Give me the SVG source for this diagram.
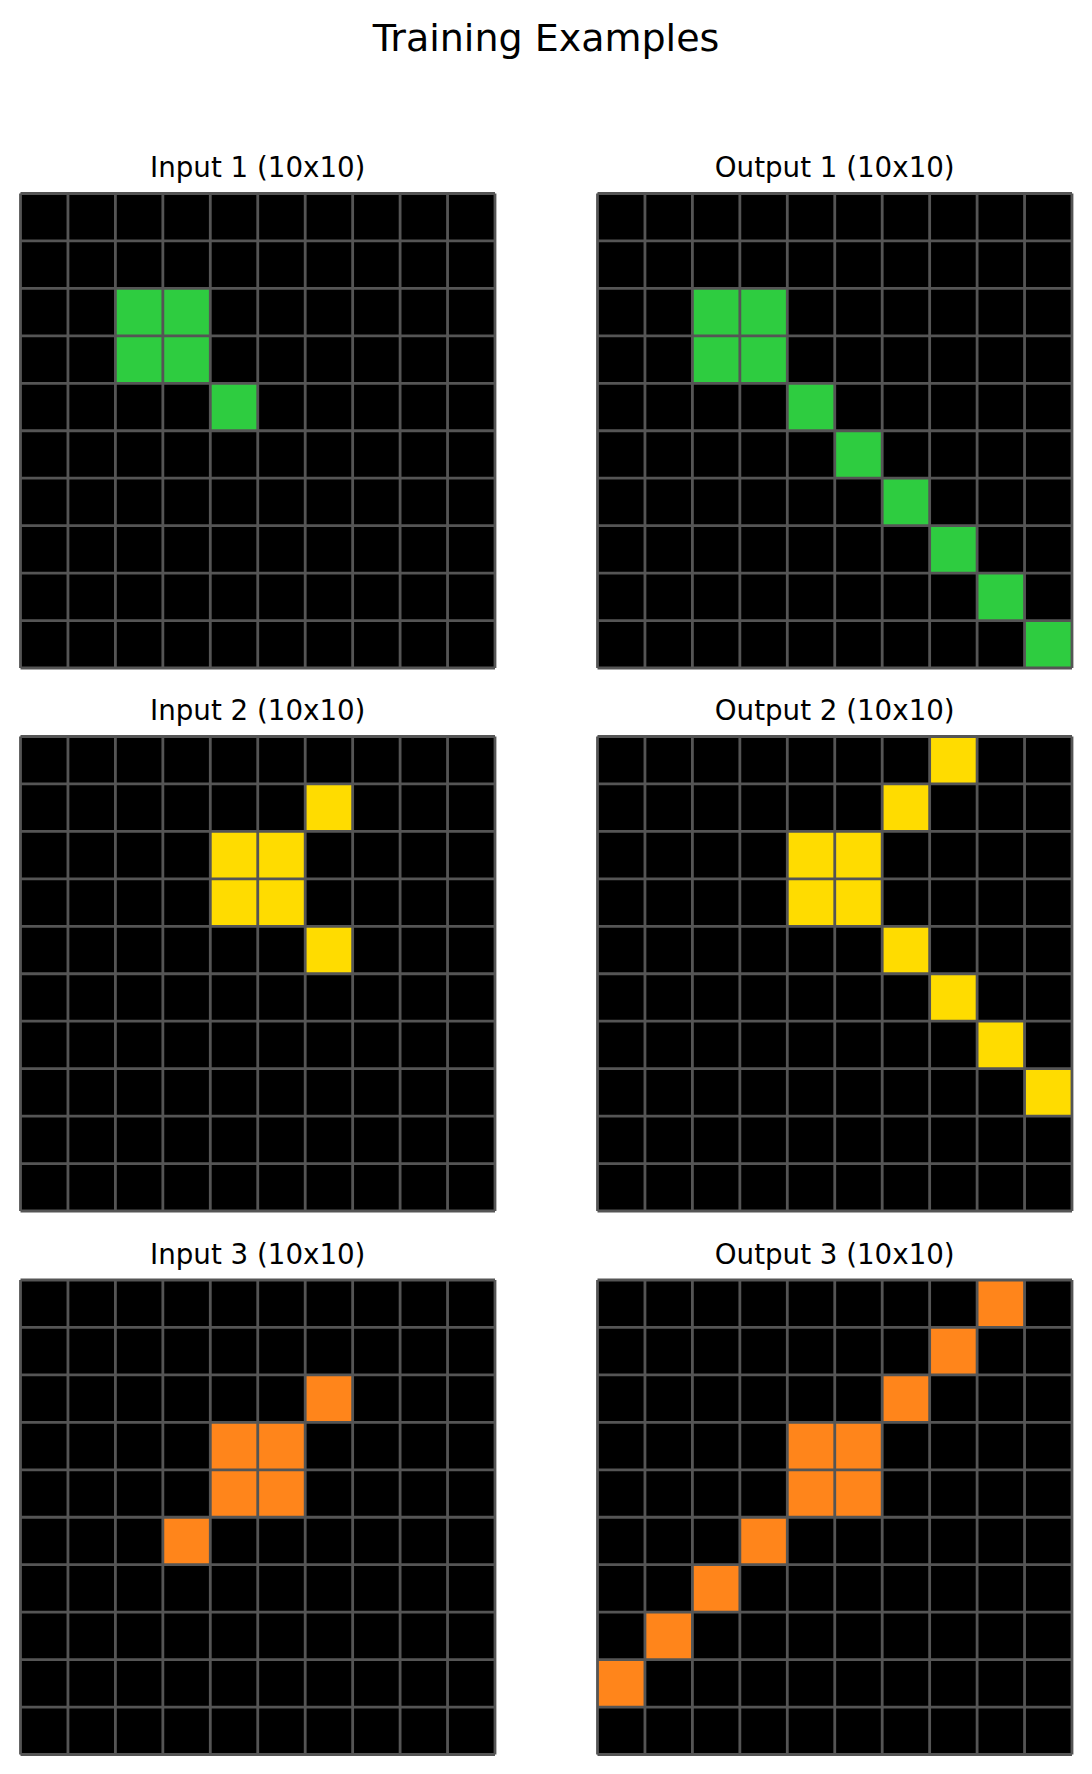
<svg xmlns="http://www.w3.org/2000/svg" xmlns:xlink="http://www.w3.org/1999/xlink" width="1092" height="1774" viewBox="0 0 1092 1774">
<style>
text{font-family:"DejaVu Sans","Liberation Sans",sans-serif;fill:#000;text-anchor:middle}
.t{font-size:27.7px}
.bg{fill:#000}
.g{fill:#2ECC40}
.y{fill:#FFDC00}
.o{fill:#FF851B}
.ln{fill:none;stroke:#555555;stroke-width:2.8}
</style>
<defs>
<path id="lines" class="ln" d="M0,0V474.5M47.45,0V474.5M94.9,0V474.5M142.35,0V474.5M189.8,0V474.5M237.25,0V474.5M284.7,0V474.5M332.15,0V474.5M379.6,0V474.5M427.05,0V474.5M474.5,0V474.5M0,0H474.5M0,47.45H474.5M0,94.9H474.5M0,142.35H474.5M0,189.8H474.5M0,237.25H474.5M0,284.7H474.5M0,332.15H474.5M0,379.6H474.5M0,427.05H474.5M0,474.5H474.5"/>
<rect id="c" width="47.45" height="47.45"/>
</defs>
<rect width="1092" height="1774" fill="#fff"/>
<text x="546" y="51" style="font-size:38px">Training Examples</text>
<g id="titles">
<text class="t" x="257.75" y="177">Input 1 (10x10)</text>
<text class="t" x="834.75" y="177">Output 1 (10x10)</text>
<text class="t" x="257.75" y="720">Input 2 (10x10)</text>
<text class="t" x="834.75" y="720">Output 2 (10x10)</text>
<text class="t" x="257.75" y="1264">Input 3 (10x10)</text>
<text class="t" x="834.75" y="1264">Output 3 (10x10)</text>
</g>
<g id="input1" transform="translate(20.5,193.5)">
<rect class="bg" width="474.5" height="474.5"/>
<g class="g">
<use xlink:href="#c" x="94.9" y="94.9"/><use xlink:href="#c" x="142.35" y="94.9"/>
<use xlink:href="#c" x="94.9" y="142.35"/><use xlink:href="#c" x="142.35" y="142.35"/>
<use xlink:href="#c" x="189.8" y="189.8"/>
</g>
<use xlink:href="#lines"/>
</g>
<g id="output1" transform="translate(597.5,193.5)">
<rect class="bg" width="474.5" height="474.5"/>
<g class="g">
<use xlink:href="#c" x="94.9" y="94.9"/><use xlink:href="#c" x="142.35" y="94.9"/>
<use xlink:href="#c" x="94.9" y="142.35"/><use xlink:href="#c" x="142.35" y="142.35"/>
<use xlink:href="#c" x="189.8" y="189.8"/>
<use xlink:href="#c" x="237.25" y="237.25"/>
<use xlink:href="#c" x="284.7" y="284.7"/>
<use xlink:href="#c" x="332.15" y="332.15"/>
<use xlink:href="#c" x="379.6" y="379.6"/>
<use xlink:href="#c" x="427.05" y="427.05"/>
</g>
<use xlink:href="#lines"/>
</g>
<g id="input2" transform="translate(20.5,736.5)">
<rect class="bg" width="474.5" height="474.5"/>
<g class="y">
<use xlink:href="#c" x="284.7" y="47.45"/>
<use xlink:href="#c" x="189.8" y="94.9"/><use xlink:href="#c" x="237.25" y="94.9"/>
<use xlink:href="#c" x="189.8" y="142.35"/><use xlink:href="#c" x="237.25" y="142.35"/>
<use xlink:href="#c" x="284.7" y="189.8"/>
</g>
<use xlink:href="#lines"/>
</g>
<g id="output2" transform="translate(597.5,736.5)">
<rect class="bg" width="474.5" height="474.5"/>
<g class="y">
<use xlink:href="#c" x="332.15" y="0"/>
<use xlink:href="#c" x="284.7" y="47.45"/>
<use xlink:href="#c" x="189.8" y="94.9"/><use xlink:href="#c" x="237.25" y="94.9"/>
<use xlink:href="#c" x="189.8" y="142.35"/><use xlink:href="#c" x="237.25" y="142.35"/>
<use xlink:href="#c" x="284.7" y="189.8"/>
<use xlink:href="#c" x="332.15" y="237.25"/>
<use xlink:href="#c" x="379.6" y="284.7"/>
<use xlink:href="#c" x="427.05" y="332.15"/>
</g>
<use xlink:href="#lines"/>
</g>
<g id="input3" transform="translate(20.5,1280)">
<rect class="bg" width="474.5" height="474.5"/>
<g class="o">
<use xlink:href="#c" x="284.7" y="94.9"/>
<use xlink:href="#c" x="189.8" y="142.35"/><use xlink:href="#c" x="237.25" y="142.35"/>
<use xlink:href="#c" x="189.8" y="189.8"/><use xlink:href="#c" x="237.25" y="189.8"/>
<use xlink:href="#c" x="142.35" y="237.25"/>
</g>
<use xlink:href="#lines"/>
</g>
<g id="output3" transform="translate(597.5,1280)">
<rect class="bg" width="474.5" height="474.5"/>
<g class="o">
<use xlink:href="#c" x="379.6" y="0"/>
<use xlink:href="#c" x="332.15" y="47.45"/>
<use xlink:href="#c" x="284.7" y="94.9"/>
<use xlink:href="#c" x="189.8" y="142.35"/><use xlink:href="#c" x="237.25" y="142.35"/>
<use xlink:href="#c" x="189.8" y="189.8"/><use xlink:href="#c" x="237.25" y="189.8"/>
<use xlink:href="#c" x="142.35" y="237.25"/>
<use xlink:href="#c" x="94.9" y="284.7"/>
<use xlink:href="#c" x="47.45" y="332.15"/>
<use xlink:href="#c" x="0" y="379.6"/>
</g>
<use xlink:href="#lines"/>
</g>
<g id="connectors"/>
</svg>
